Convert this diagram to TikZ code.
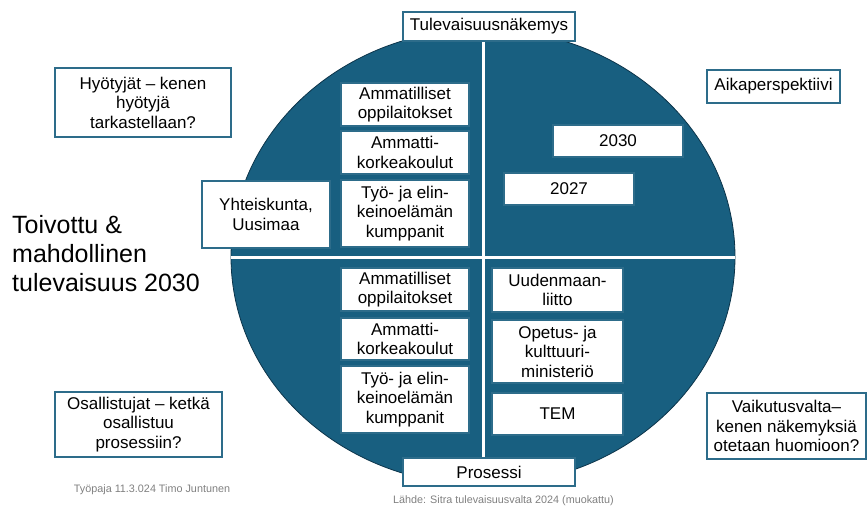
\documentclass[tikz,border=0pt]{standalone}
\usepackage{fontspec}
\setmainfont{Liberation Sans}
\usetikzlibrary{shapes.geometric}
\definecolor{ringblue}{RGB}{24,95,128}
\definecolor{ringedge}{RGB}{12,52,74}
\definecolor{boxedge}{RGB}{45,108,138}
\definecolor{notegray}{RGB}{128,128,128}

\tikzset{
	box/.style={draw=boxedge, line width=1.1pt, fill=white, align=center, inner sep=0pt, font=\fontsize{17}{19.5}\selectfont},
	lbox/.style={box, minimum width=128pt},
	rbox/.style={box, minimum width=131pt},
	divider/.style={white, line width=3pt},
	note/.style={text=notegray, inner sep=0pt, font=\fontsize{10.8}{12}\selectfont}
}

\begin{document}
\begin{tikzpicture}[x=1pt,y=-1pt]
	\useasboundingbox (0,0) rectangle (868,506);

	% the ring and its quarters
	\node (ring) at (483,257) [ellipse, draw=ringedge, line width=0.8pt, fill=ringblue, minimum width=504pt, minimum height=456pt, inner sep=0pt] {};
	\draw[divider] (ring.north) -- (ring.south);
	\draw[divider] (ring.west) -- (ring.east);

	\node (tn) at (489,26.5) [box, minimum width=172pt, minimum height=29pt] {Tulevaisuusnäkemys};
	\node (pr) at (489,472) [box, minimum width=172pt, minimum height=28pt] {Prosessi};

	\node (hy) at (143,102.5) [box, minimum width=176pt, minimum height=69pt] {Hyötyjät – kenen\\hyötyjä\\tarkastellaan?};
	\node (ai) at (773.5,86.5) [box, minimum width=133pt, minimum height=33pt] {Aikaperspektiivi};
	\node (os) at (138.5,424.5) [box, minimum width=167pt, minimum height=65pt] {Osallistujat – ketkä\\osallistuu\\prosessiin?};
	\node (va) at (786.5,426) [box, minimum width=159pt, minimum height=66pt] {Vaikutusvalta–\\kenen näkemyksiä\\otetaan huomioon?};
	\node (yh) at (266,214.5) [box, minimum width=128pt, minimum height=67pt] {Yhteiskunta,\\Uusimaa};

	\node (am1) at (405,104.5) [lbox, minimum height=43pt] {Ammatilliset\\oppilaitokset};
	\node (ak1) at (405,152.5) [lbox, minimum height=43pt] {Ammatti-\\korkeakoulut};
	\node (ty1) at (405,213.5) [lbox, minimum height=67pt] {Työ- ja elin-\\keinoelämän\\kumppanit};

	\node (y30) at (618,141) [box, minimum width=130pt, minimum height=32pt] {2030};
	\node (y27) at (569,189) [box, minimum width=130pt, minimum height=32pt] {2027};

	\node (am2) at (405,289.5) [lbox, minimum height=43pt] {Ammatilliset\\oppilaitokset};
	\node (ak2) at (405,339) [lbox, minimum height=42pt] {Ammatti-\\korkeakoulut};
	\node (ty2) at (405,399.5) [lbox, minimum height=67pt] {Työ- ja elin-\\keinoelämän\\kumppanit};

	\node (uu) at (557.5,290) [rbox, minimum height=44pt] {Uudenmaan-\\liitto};
	\node (op) at (557.5,351.5) [rbox, minimum height=63pt] {Opetus- ja\\kulttuuri-\\ministeriö};
	\node (tem) at (557.5,414) [rbox, minimum height=42pt] {TEM};

	\node (title) at (12,254) [anchor=west, align=left, inner sep=0pt, font=\fontsize{25}{29}\selectfont] {Toivottu \&\\mahdollinen\\tulevaisuus 2030};

	\node (work) at (152,490) [note] {Työpaja 11.3.024 Timo Juntunen};
	\node (src) at (503.5,503) [note, anchor=base] {Lähde: Sitra tulevaisuusvalta 2024 (muokattu)};

\end{tikzpicture}
\end{document}
